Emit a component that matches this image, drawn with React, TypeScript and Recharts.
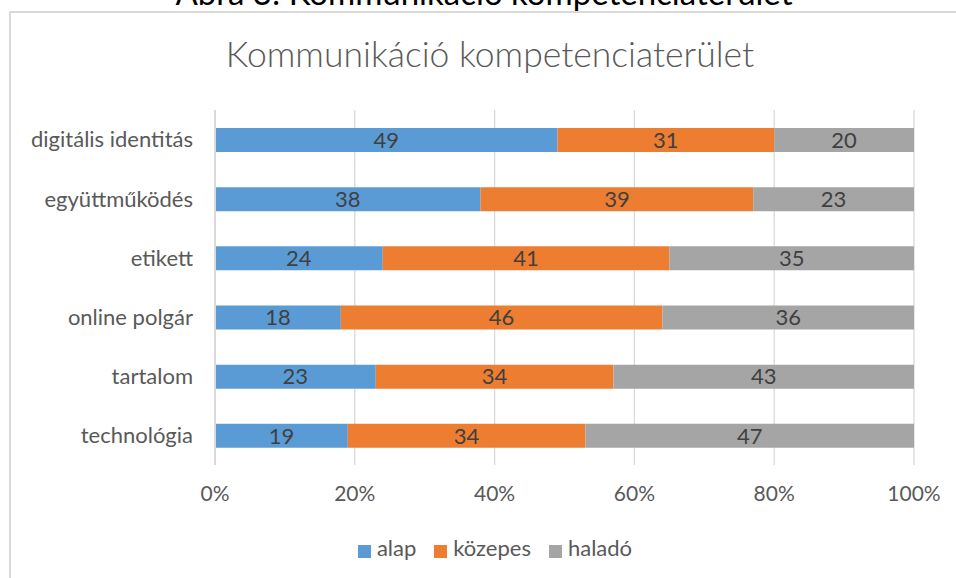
import React from 'react';
import { BarChart, Bar, XAxis, YAxis, CartesianGrid, Legend, LabelList } from 'recharts';

const categories = ['digitális identitás', 'együttműködés', 'etikett', 'online polgár', 'tartalom', 'technológia'];
const alap = [49, 38, 24, 18, 23, 19];
const kozepes = [31, 39, 41, 46, 34, 34];
const halado = [20, 23, 35, 36, 43, 47];
const xTicks = [0, 20, 40, 60, 80, 100];
const seriesOrder = ['alap', 'közepes', 'haladó'];

const data = categories.map((name, i) => ({
    name,
    alap: alap[i],
    kozepes: kozepes[i],
    halado: halado[i],
}));

const FONT = 'Lato, "Open Sans", sans-serif';
const TEXT = '#595959';

export default function App() {
    return (
        <div style={{ position: 'absolute', left: 0, top: 0, width: 956, height: 578, overflow: 'hidden', background: '#fff', fontFamily: FONT }}>
            {/* caption above the chart, cut off at the top */}
            <div style={{ position: 'absolute', left: 0, width: 968, top: -28, textAlign: 'center', fontSize: 33, color: '#000', lineHeight: '40px', whiteSpace: 'nowrap' }}>
                Ábra 3: Kommunikáció kompetenciaterület
            </div>
            <div style={{ position: 'absolute', left: 9, top: 11, width: 1000, height: 700, border: '2px solid #d9d9d9', boxSizing: 'border-box' }} />
            <div style={{ position: 'absolute', left: 0, width: 980, top: 32, textAlign: 'center', fontSize: 35.5, fontWeight: 300, color: TEXT, lineHeight: '44px', whiteSpace: 'nowrap' }}>
                Kommunikáció kompetenciaterület
            </div>
            <div style={{ position: 'absolute', left: 0, top: 0 }}>
                <BarChart
                    width={956}
                    height={578}
                    data={data}
                    layout="vertical"
                    margin={{ top: 110, right: 42, bottom: 20, left: 0 }}
                    barSize={24}
                >
                    <CartesianGrid horizontal={false} stroke="#d9d9d9" strokeWidth={1.3} />
                    <XAxis
                        type="number"
                        domain={[0, 100]}
                        ticks={xTicks}
                        tickFormatter={(v: number) => `${v}%`}
                        axisLine={false}
                        tickLine={false}
                        tickSize={0}
                        tickMargin={21}
                        height={48}
                        tick={{ fontSize: 21, fill: TEXT, fontFamily: FONT }}
                    />
                    <YAxis
                        type="category"
                        dataKey="name"
                        width={215}
                        axisLine={{ stroke: '#d9d9d9', strokeWidth: 2 }}
                        tickLine={false}
                        tickSize={0}
                        tickMargin={22}
                        tick={{ fontSize: 22, fill: TEXT, fontFamily: FONT }}
                    />
                    <Legend
                        verticalAlign="bottom"
                        align="center"
                        iconType="square"
                        iconSize={13}
                        height={45}
                        wrapperStyle={{ top: 534, left: 0, width: 1008 }}
                        itemSorter={(item: any) => seriesOrder.indexOf(item.value)}
                        formatter={(value: string) => <span style={{ color: TEXT, fontSize: 22, fontFamily: FONT, marginLeft: 2, marginRight: 8 }}>{value}</span>}
                    />
                    <Bar dataKey="alap" name="alap" stackId="a" fill="#5B9BD5" isAnimationActive={false}>
                        <LabelList dataKey="alap" position="center" fill="#404040" fontSize={22} fontFamily={FONT} />
                    </Bar>
                    <Bar dataKey="kozepes" name="közepes" stackId="a" fill="#ED7D31" isAnimationActive={false}>
                        <LabelList dataKey="kozepes" position="center" fill="#404040" fontSize={22} fontFamily={FONT} />
                    </Bar>
                    <Bar dataKey="halado" name="haladó" stackId="a" fill="#A5A5A5" isAnimationActive={false}>
                        <LabelList dataKey="halado" position="center" fill="#404040" fontSize={22} fontFamily={FONT} />
                    </Bar>
                </BarChart>
            </div>
        </div>
    );
}
